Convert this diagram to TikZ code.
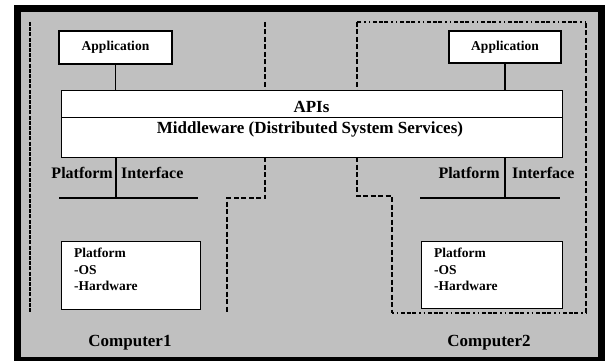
\documentclass[tikz,border=0pt]{standalone}
\usepackage{fontspec}
\setmainfont{Liberation Serif}
\definecolor{bggray}{HTML}{C0C0C0}
\begin{document}
\begin{tikzpicture}[x=1pt,y=-1pt,
  wbox/.style={draw=black,fill=white,line width=1.1pt,inner sep=0pt},
  conn/.style={draw=black,line width=1.1pt},
  bnd/.style={line width=1.8pt,dash pattern=on 5pt off 2.5pt},
  bndl/.style={line width=2.6pt,dash pattern=on 4pt off 1.2pt},
  dotb/.style={line width=1.4pt,dash pattern=on 1.5pt off 3pt on 1.5pt off 3pt on 4pt off 1.5pt on 4pt off 1.5pt on 4pt off 3pt},
  lbl/.style={font=\bfseries\fontsize{16}{18}\selectfont,inner sep=0pt},
  comp/.style={font=\bfseries\fontsize{17}{19}\selectfont,inner sep=0pt},
  appl/.style={font=\bfseries\fontsize{13.5}{15}\selectfont},
  plat/.style={font=\bfseries\fontsize{13.5}{16.5}\selectfont,align=left,inner sep=0pt}]
\useasboundingbox (0,0) rectangle (605,361);
% frame
\fill[black] (14,5) rectangle (605,361);
\fill[bggray] (21,12) rectangle (598,357);
% boundaries
\coordinate (l1) at (30,22);
\coordinate (l2) at (30,313);
\draw[bndl] (l1) -- (l2);
\coordinate (m1) at (265,22);
\coordinate (m2) at (265,198);
\coordinate (m3) at (227,198);
\coordinate (m4) at (227,313);
\draw[bnd] (m1) -- (m2) -- (m3) -- (m4);
\coordinate (c1) at (357,22);
\coordinate (c2) at (357,196);
\coordinate (c3) at (392,196);
\coordinate (c4) at (392,313);
\coordinate (c5) at (586,313);
\coordinate (c6) at (586,22);
\draw[bnd] (c1) -- (c2) -- (c3) -- (c4);
\draw[dotb] (c4) -- (c5);
\draw[bnd] (c5) -- (c6);
\draw[dotb] (c6) -- (c1);
% application boxes
\node[wbox,appl,minimum width=113pt,minimum height=33pt] (app1) at (115.5,47.5) {Application};
\node[wbox,appl,minimum width=112pt,minimum height=32pt] (app2) at (505,47) {Application};
% middleware
\node[wbox,minimum width=501pt,minimum height=27pt,anchor=north west] (apis) at (61,90) {};
\node[wbox,minimum width=501pt,minimum height=40pt,anchor=north west] (mw) at (61,117) {};
\node[font=\bfseries\fontsize{17}{19}\selectfont,inner sep=0pt,anchor=base] (apist) at (311.5,112) {APIs};
\node[font=\bfseries\fontsize{17}{19}\selectfont,inner sep=0pt,anchor=base] (mwt) at (310,133) {Middleware (Distributed System Services)};
\draw[conn] (app1.south) -- (app1.south |- apis.north);
\draw[conn] (app2.south) -- (app2.south |- apis.north);
% platform interfaces
\coordinate (p1) at (116,198);
\coordinate (h1a) at (59,198);
\coordinate (h1b) at (198,198);
\draw[conn] (p1 |- mw.south) -- (p1);
\draw[conn] (h1a) -- (h1b);
\coordinate (p2) at (505,198);
\coordinate (h2a) at (420,198);
\coordinate (h2b) at (560,198);
\draw[conn] (p2 |- mw.south) -- (p2);
\draw[conn] (h2a) -- (h2b);
\node[lbl,anchor=base east] (pl1) at (113,178) {Platform};
\node[lbl,anchor=base west] (if1) at (121,178) {Interface};
\node[lbl,anchor=base east] (pl2) at (500,178) {Platform};
\node[lbl,anchor=base west] (if2) at (512,178) {Interface};
% platform boxes
\node[wbox,minimum width=139pt,minimum height=68pt,anchor=north west] (pb1) at (61,241) {};
\node[wbox,minimum width=141pt,minimum height=67pt,anchor=north west] (pb2) at (421,241) {};
\node[plat,anchor=north west] (pt1) at (74,248) {Platform\\-OS\\-Hardware};
\node[plat,anchor=north west] (pt2) at (434,248) {Platform\\-OS\\-Hardware};
% computer labels
\node[comp,anchor=base] (cp1) at (130,346) {Computer1};
\node[comp,anchor=base] (cp2) at (489,346) {Computer2};
\end{tikzpicture}
\end{document}
